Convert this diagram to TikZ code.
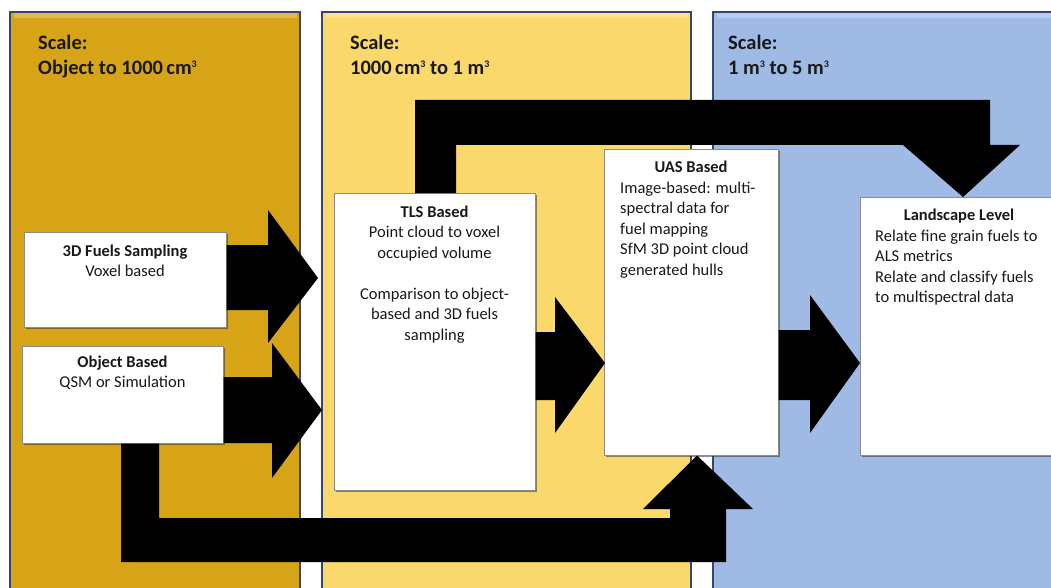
\documentclass[tikz,border=0pt]{standalone}
\usepackage{fontspec}
\setmainfont{Carlito}
\usetikzlibrary{calc,shadows}
\definecolor{goldp}{RGB}{214,164,22}
\definecolor{yellowp}{RGB}{250,216,108}
\definecolor{bluep}{RGB}{160,186,230}
\definecolor{borderc}{RGB}{55,70,105}
\definecolor{txtc}{RGB}{25,25,25}
\newcommand{\cube}{\raisebox{7pt}{\fontsize{10}{10}\selectfont 3}}
\begin{document}
\begin{tikzpicture}[x=1pt,y=-1pt,
  panel/.style={draw=borderc, line width=1.2pt},
  bevel/.style={draw=white, opacity=0.25, line width=5pt},
  box/.style={draw=black!45, fill=white, line width=0.5pt, inner sep=0pt,
    drop shadow={shadow xshift=2pt, shadow yshift=-2pt, opacity=0.55, fill=black!80}},
  scaletxt/.style={font=\fontsize{20.5}{25}\selectfont\bfseries, text=black!90, inner sep=0pt, anchor=base west},
  boxtxt/.style={font=\fontsize{16.5}{20.5}\selectfont, text=txtc, inner sep=0pt, anchor=north},
  blockarrow/.style={fill=black, draw=none}]
\useasboundingbox (0,0) rectangle (1051,588);
\clip (0,0) rectangle (1051,588);
\fill[white] (0,0) rectangle (1051,588);

% panels
\filldraw[panel, fill=goldp] (10,12) rectangle (300,600);
\filldraw[panel, fill=yellowp] (322,12) rectangle (691,600);
\filldraw[panel, fill=bluep] (713,12) rectangle (1075,600);
\draw[bevel] (13.5,15.5) -- (296.5,15.5);
\draw[bevel] (325.5,15.5) -- (687.5,15.5);
\draw[bevel] (716.5,15.5) -- (1060,15.5);

% scale labels
\node[scaletxt] (s1a) at (38,50) {Scale:};
\node[scaletxt] (s1b) at (38,75) {Object to 1000\,cm\cube};
\node[scaletxt] (s2a) at (350,50) {Scale:};
\node[scaletxt] (s2b) at (350,75) {1000\,cm\cube\ to 1 m\cube};
\node[scaletxt] (s3a) at (728,50) {Scale:};
\node[scaletxt] (s3b) at (728,75) {1 m\cube\ to 5 m\cube};

% boxes
\node[box, minimum width=202pt, minimum height=95pt, anchor=north west] (f3d) at (24,232) {};
\node[box, minimum width=201pt, minimum height=97pt, anchor=north west] (obj) at (22,346) {};
\node[box, minimum width=201pt, minimum height=297pt, anchor=north west] (tls) at (334,193) {};
\node[box, minimum width=174pt, minimum height=306pt, anchor=north west] (uas) at (604,149) {};
\node[box, minimum width=210pt, minimum height=258pt, anchor=north west] (land) at (860,197) {};

% arrows
\fill[blockarrow] (f3d.east |- 0,245) -- (268,245) -- (268,210) -- (318,278) -- (268,343) -- (268,310) -- (f3d.east |- 0,310) -- cycle;
\fill[blockarrow] (obj.east |- 0,377) -- (272,377) -- (272,343) -- (322,410) -- (272,478) -- (272,443) -- (obj.east |- 0,443) -- cycle;
\fill[blockarrow] (tls.east |- 0,332) -- (555,332) -- (555,297) -- (605,363) -- (555,433) -- (555,400) -- (tls.east |- 0,400) -- cycle;
\fill[blockarrow] (uas.east |- 0,330) -- (810,330) -- (810,295) -- (860,363) -- (810,433) -- (810,400) -- (uas.east |- 0,400) -- cycle;
\coordinate (topstart) at (tls.north -| 415,0);
\fill[blockarrow] (topstart) -- (415,100) -- (990,100) -- (990,145) -- (1020,145) -- (land.north -| 963,0) -- (903,145) -- (456,145) -- (tls.north -| 456,0) -- cycle;
\fill[blockarrow] (obj.south -| 121,0) -- (121,562) -- (726,562) -- (726,509) -- (753,509) -- (uas.south -| 697,0) -- (643,509) -- (670,509) -- (670,518) -- (159,518) -- (obj.south -| 159,0) -- cycle;

% box texts
\node[boxtxt, align=center] (f3dt) at (125,244.5) {\textbf{3D Fuels Sampling}\\Voxel based};
\node[boxtxt, align=center] (objt) at (122.5,355.5) {\textbf{Object Based}\\QSM or Simulation};
\node[boxtxt, align=center] (tlst) at (434.5,205.5) {\textbf{TLS Based}\\Point cloud to voxel\\occupied volume\\[20.5pt]Comparison to object-\\based and 3D fuels\\sampling};
\node[boxtxt] (uash) at (691,160.5) {\textbf{UAS Based}};
\node[boxtxt, anchor=north west, align=left] (uast) at (620,181.5) {Image-based: multi-\\spectral data for\\fuel mapping\\SfM 3D point cloud\\generated hulls};
\node[boxtxt] (landh) at (959,208.5) {\textbf{Landscape Level}};
\node[boxtxt, anchor=north west, align=left] (landt) at (875,229.5) {Relate fine grain fuels to\\ALS metrics\\Relate and classify fuels\\to multispectral data};
\end{tikzpicture}
\end{document}
